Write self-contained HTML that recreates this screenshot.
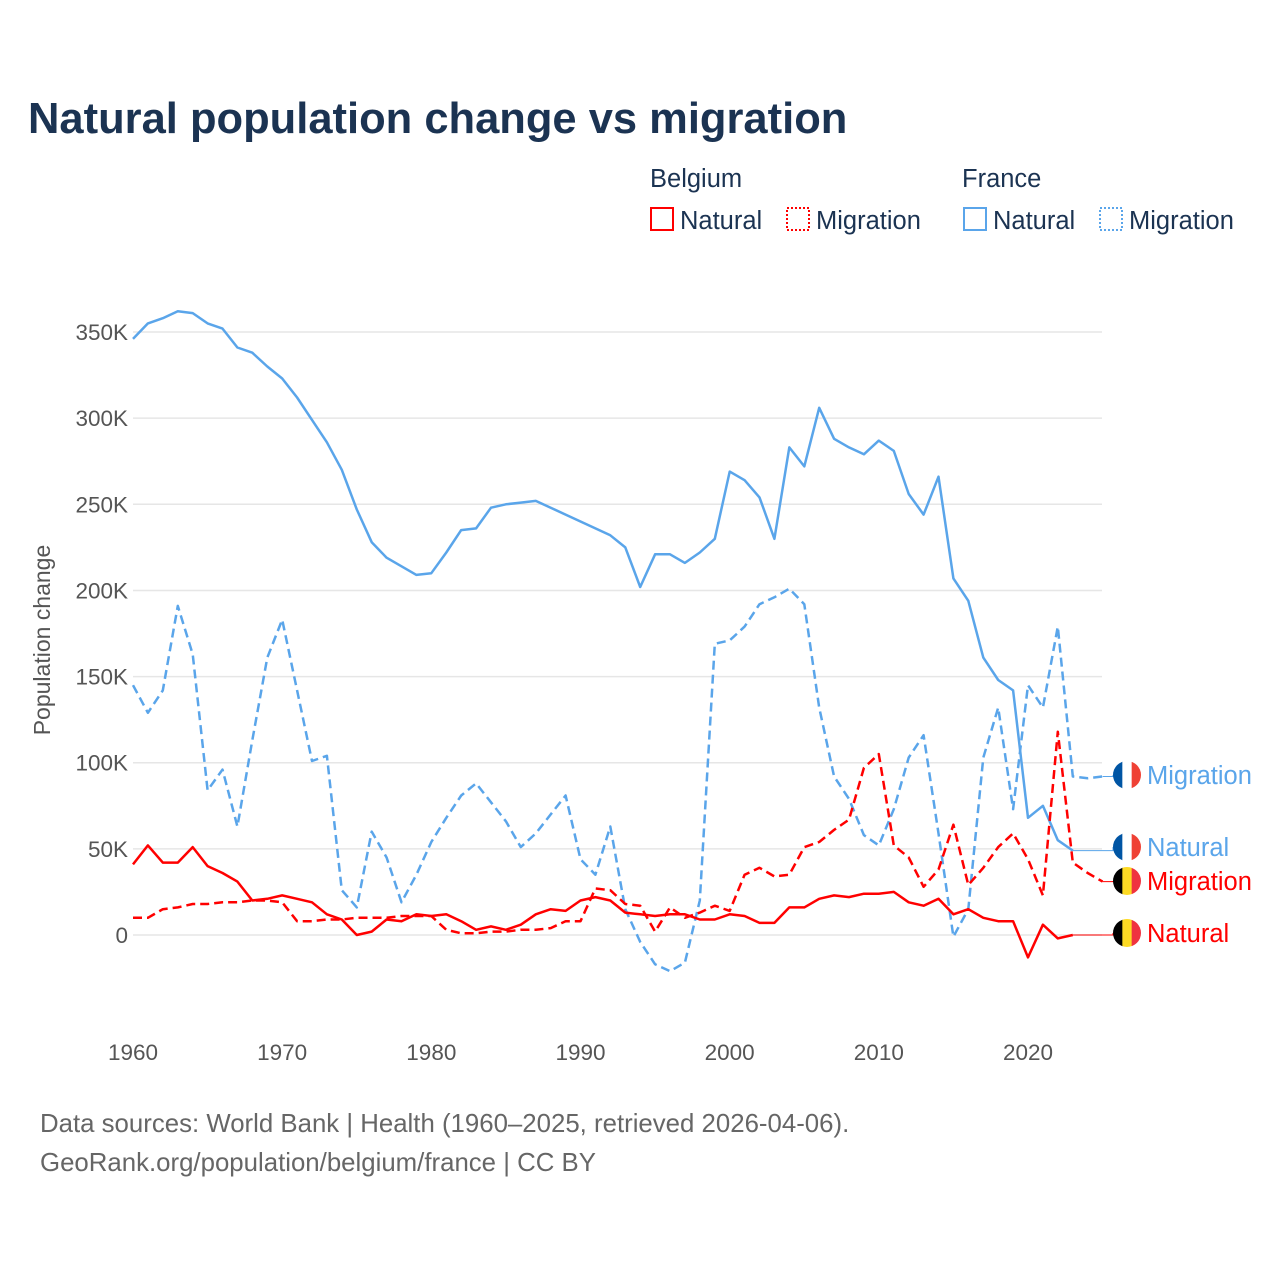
<!DOCTYPE html>
<html><head><meta charset="utf-8"><style>
body{margin:0;background:#fff;}
svg text{font-family:"Liberation Sans",sans-serif;}
</style></head><body>
<svg id="chart" width="1280" height="1280" xmlns="http://www.w3.org/2000/svg">
<text x="28" y="133" font-size="43.5" font-weight="bold" fill="#1b3352">Natural population change vs migration</text>
<g font-size="25.5" fill="#1b3352">
<text x="650" y="187">Belgium</text>
<text x="962" y="187">France</text>
<g><rect x="651" y="208" width="22" height="22" fill="none" stroke="#f00" stroke-width="2"/><text x="680" y="229">Natural</text></g>
<g><rect x="787" y="208" width="22" height="22" fill="none" stroke="#f00" stroke-width="2" stroke-dasharray="2,2"/><text x="816" y="229">Migration</text></g>
<g><rect x="964" y="208" width="22" height="22" fill="none" stroke="#5aa5ea" stroke-width="2"/><text x="993" y="229">Natural</text></g>
<g><rect x="1100" y="208" width="22" height="22" fill="none" stroke="#5aa5ea" stroke-width="2" stroke-dasharray="2,2"/><text x="1129" y="229">Migration</text></g>
</g>
<text transform="translate(50,640) rotate(-90)" text-anchor="middle" font-size="23" fill="#555">Population change</text>
<g id="grid"></g><g id="yt"></g><g id="xt"></g><g id="lines"></g><g id="labels"></g>
<text x="40" y="1132" font-size="25.8" fill="#666">Data sources: World Bank | Health (1960–2025, retrieved 2026-04-06).</text>
<text x="40" y="1171" font-size="25.8" fill="#666">GeoRank.org/population/belgium/france | CC BY</text>
</svg>
<script>
const yTicks=[0,50,100,150,200,250,300,350];
const xTicks=[1960,1970,1980,1990,2000,2010,2020];
const frNatural=[346,355,358,362,361,355,352,341,338,330,323,312,299,286,270,247,228,219,214,209,210,222,235,236,248,250,251,252,248,244,240,236,232,225,202,221,221,216,222,230,269,264,254,230,283,272,306,288,283,279,287,281,256,244,266,207,194,161,148,142,68,75,55,49];
const frMigration=[145,129,142,191,163,84,96,63,113,161,183,142,101,104,26,16,60,45,19,35,54,68,81,88,77,66,51,59,70,81,44,35,63,15,-4,-17,-21,-16,20,169,171,179,192,196,201,192,132,92,79,58,52,73,103,116,59,-1,15,103,132,73,145,132,179,92,91,92];
const beNatural=[41,52,42,42,51,40,36,31,20,21,23,21,19,12,9,0,2,9,8,12,11,12,8,3,5,3,6,12,15,14,20,22,20,13,12,11,12,12,9,9,12,11,7,7,16,16,21,23,22,24,24,25,19,17,21,12,15,10,8,8,-13,6,-2,0];
const beMigration=[10,10,15,16,18,18,19,19,20,20,19,8,8,9,9,10,10,10,11,11,11,3,1,1,2,2,3,3,4,8,8,27,26,18,17,2,16,10,13,17,14,35,39,34,35,51,54,61,67,97,105,52,45,28,38,64,29,39,51,59,44,23,118,42,36,31];
const NS="http://www.w3.org/2000/svg";
const X=yr=>133+(yr-1960)*895/60;
const Y=v=>935-v*86.14/50;
function mk(tag,attrs,parent){const e=document.createElementNS(NS,tag);for(const k in attrs)e.setAttribute(k,attrs[k]);document.getElementById(parent).appendChild(e);return e;}
yTicks.forEach(t=>{
 const l=mk('line',{x1:133,x2:1102,y1:Y(t),y2:Y(t),stroke:'#e6e6e6','stroke-width':1.5},'grid');
 
 
 const tx=mk('text',{x:128,y:Y(t)+8,'text-anchor':'end','font-size':22.5,fill:'#555'},'yt');
 tx.textContent=t===0?'0':t+'K';
 
 
});
xTicks.forEach(t=>{
 const tx=mk('text',{x:X(t),y:1060,'text-anchor':'middle','font-size':22.5,fill:'#555'},'xt');
 tx.textContent=t;
 
 
});
function series(arr,color,dash,name){
 const pts=arr.map((v,i)=>X(1960+i).toFixed(1)+','+Y(v).toFixed(1)).join(' ');
 const p=mk('polyline',{points:pts,fill:'none',stroke:color,'stroke-width':2.5,'stroke-linejoin':'round'},'lines');
 if(dash)p.setAttribute('stroke-dasharray','9,5');
 
 
}
series(frNatural,'#5aa5ea',false,'line-france-natural');
series(frMigration,'#5aa5ea',true,'line-france-migration');
series(beNatural,'#f00',false,'line-belgium-natural');
series(beMigration,'#f00',true,'line-belgium-migration');
function label(arr,ly,color,txt,fr,name){
 const last=arr.length-1,lx=X(1960+last),lv=Y(arr[last]);
 const c=mk('polyline',{points:`${lx},${lv} 1113,${lv} 1113,${ly}`,fill:'none',stroke:color,'stroke-width':1},'labels');
 
 
 const g=mk('g',{},'labels');
 
 
 const cols=fr?['#0055a4','#fff','#ef4135']:['#000','#fdda24','#ef3340'];
 const cx=1127,r=14;
 const id='clip'+name;
 const cp=document.createElementNS(NS,'clipPath');cp.setAttribute('id',id);
 const cc=document.createElementNS(NS,'circle');cc.setAttribute('cx',cx);cc.setAttribute('cy',ly);cc.setAttribute('r',r);cp.appendChild(cc);g.appendChild(cp);
 cols.forEach((col,i)=>{const rc=document.createElementNS(NS,'rect');rc.setAttribute('x',cx-r+i*2*r/3);rc.setAttribute('y',ly-r);rc.setAttribute('width',2*r/3+0.5);rc.setAttribute('height',2*r);rc.setAttribute('fill',col);rc.setAttribute('clip-path','url(#'+id+')');g.appendChild(rc);});
 const t=mk('text',{x:1147,y:ly+9,'font-size':25.5,fill:color},'labels');
 t.textContent=txt;
 
 
}
label(frMigration,775,'#5aa5ea','Migration',true,'france-migration');
label(frNatural,847,'#5aa5ea','Natural',true,'france-natural');
label(beMigration,881,'#f00','Migration',false,'belgium-migration');
label(beNatural,933,'#f00','Natural',false,'belgium-natural');
</script>
</body></html>
